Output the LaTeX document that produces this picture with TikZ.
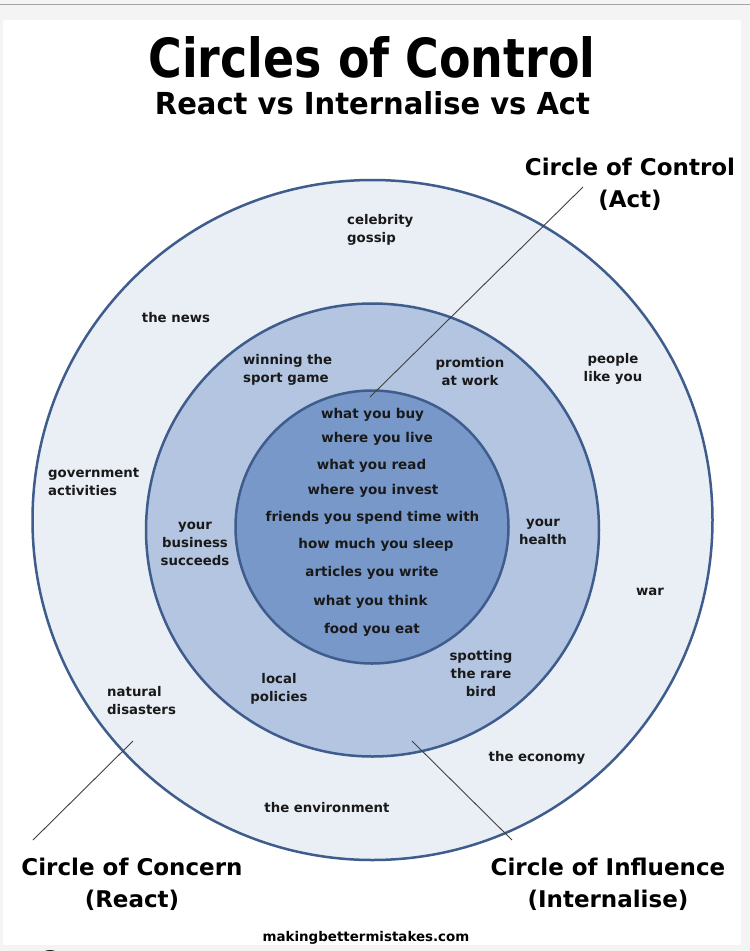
\documentclass[tikz,border=0pt]{standalone}
\usepackage{fontspec}
\setmainfont{DejaVu Sans}
\usepackage{graphicx}
\definecolor{ringline}{HTML}{3E5C8C}
\definecolor{outerfill}{HTML}{EAEFF6}
\definecolor{midfill}{HTML}{B3C5E1}
\definecolor{innerfill}{HTML}{7898C9}
\definecolor{pagebg}{HTML}{F4F4F4}
\tikzset{
  ring/.style={draw=ringline, line width=2.5pt},
  lbl/.style={font=\fontsize{13.3}{18}\selectfont\bfseries, align=center, inner sep=0pt, text=black!90},
  lbll/.style={lbl, align=left},
  item/.style={font=\fontsize{13.5}{16}\selectfont\bfseries, inner sep=0pt, text=black!90},
  biglbl/.style={font=\fontsize{23}{32}\selectfont\bfseries, align=center, inner sep=0pt},
  leader/.style={draw=black!75, line width=0.9pt}
}
\begin{document}
\begin{tikzpicture}[x=1pt,y=-1pt]
\useasboundingbox (0,0) rectangle (750,951);
\begin{scope}
\clip (0,0) rectangle (750,951);
\fill[pagebg] (0,0) rectangle (750,951);
\draw[black!35, line width=1pt] (0,4) -- (750,4);
\fill[white] (3,20) rectangle (741,945);
\fill[black!85] (50,964) circle (14);
\end{scope}
% circles
\node[circle, ring, fill=outerfill, minimum size=680pt, inner sep=0pt] (concern) at (372.5,520) {};
\node[circle, ring, fill=midfill, minimum size=453pt, inner sep=0pt] (influence) at (372.5,530) {};
\node[circle, ring, fill=innerfill, minimum size=273pt, inner sep=0pt] (control) at (372,527) {};
% title
\node[anchor=base, inner sep=0pt] (title) at (372,77) {\resizebox{447pt}{41pt}{\bfseries Circles of Control}};
\node[anchor=base, inner sep=0pt] (subtitle) at (372.5,114) {\resizebox{435pt}{23pt}{\bfseries React vs Internalise vs Act}};
% big labels
\node[biglbl] (lcontrol) at (630,184) {Circle of Control\\(Act)};
\node[biglbl] (lconcern) at (132,884) {Circle of Concern\\(React)};
\node[biglbl] (linfluence) at (608,884) {Circle of Influence\\(Internalise)};
% leader lines
\coordinate (c1a) at (583,187);
\coordinate (c1b) at (370,397);
\coordinate (c2a) at (33,840);
\coordinate (c2b) at (133,741);
\coordinate (c3a) at (412,741);
\coordinate (c3b) at (512,840);
\draw[leader] (c1a) -- (c1b);
\draw[leader] (c2a) -- (c2b);
\draw[leader] (c3a) -- (c3b);
% outer ring labels
\node[lbll, anchor=west] (celeb) at (347,230) {celebrity\\gossip};
\node[lbl] (news) at (176,318) {the news};
\node[lbl] (people) at (613,369) {people\\like you};
\node[lbll, anchor=west] (govt) at (48,482) {government\\activities};
\node[lbl] (war) at (650,592) {war};
\node[lbll, anchor=west] (natural) at (107,701) {natural\\disasters};
\node[lbl] (economy) at (537,758) {the economy};
\node[lbl] (environment) at (327,808) {the environment};
% middle ring labels
\node[lbll, anchor=west] (winning) at (243,370) {winning the\\sport game};
\node[lbl] (promotion) at (470,372) {promtion\\at work};
\node[lbl] (business) at (195,544) {your\\business\\succeeds};
\node[lbl] (health) at (543,532) {your\\health};
\node[lbl] (local) at (279,689) {local\\policies};
\node[lbl] (spotting) at (481,674) {spotting\\the rare\\bird};
% inner items
\node[item] (i1) at (372.5,415) {what you buy};
\node[item] (i2) at (377,439) {where you live};
\node[item] (i3) at (371.5,466) {what you read};
\node[item] (i4) at (373,491) {where you invest};
\node[item] (i5) at (372.5,518) {friends you spend time with};
\node[item] (i6) at (376,545) {how much you sleep};
\node[item] (i7) at (372,573) {articles you write};
\node[item] (i8) at (370.5,602) {what you think};
\node[item] (i9) at (372,630) {food you eat};
% footer
\node[font=\fontsize{13.4}{15}\selectfont\bfseries, inner sep=0pt] (footer) at (366,938) {makingbettermistakes.com};
\end{tikzpicture}
\end{document}
